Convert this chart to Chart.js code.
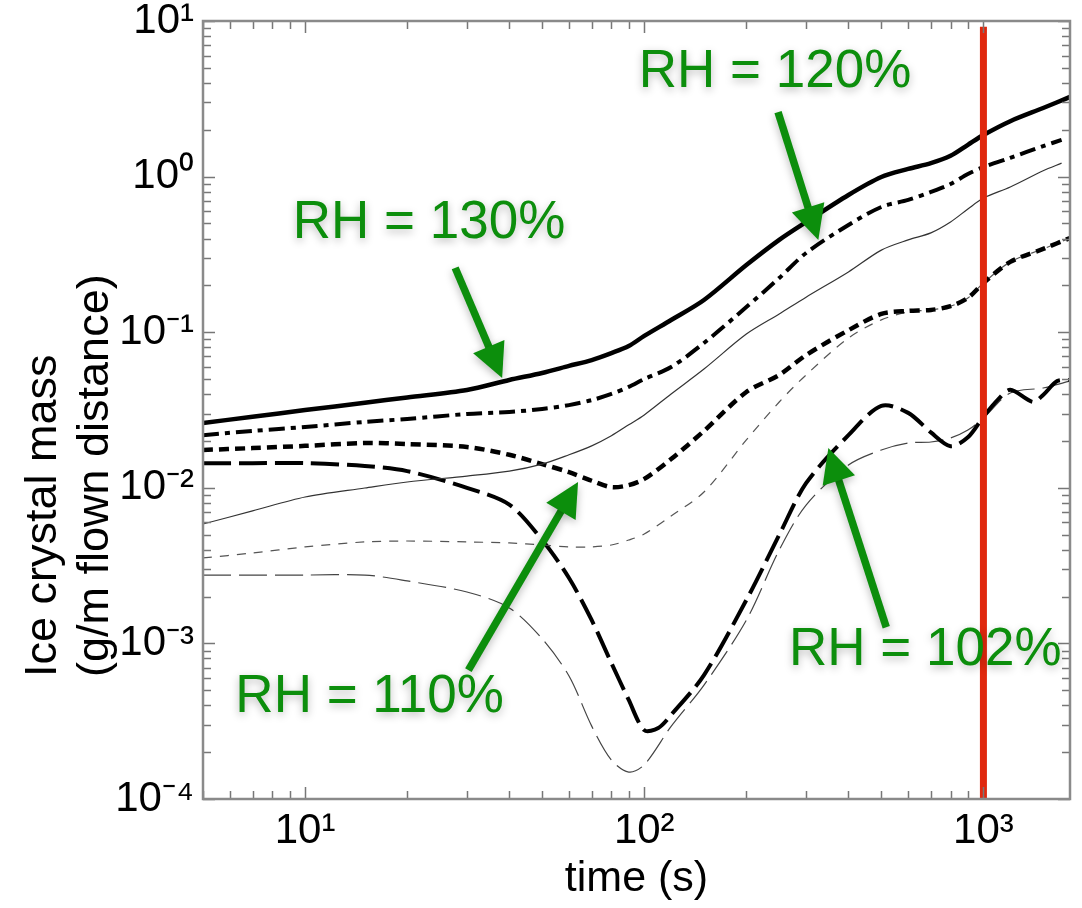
<!DOCTYPE html>
<html><head><meta charset="utf-8">
<script src="https://cdn.jsdelivr.net/npm/chart.js@4.4.1/dist/chart.umd.min.js"></script>
<style>html,body{margin:0;padding:0;background:#fff;overflow:hidden}#wrap{width:1082px;height:908px}</style>
</head><body><div id="wrap"><canvas id="c" width="1082" height="908"></canvas></div>
<script>
// ---- data ----
const times = [5,7,10,15,20,30,40,50,60,70,80,90,100,120,150,200,250,300,400,500,600,700,800,900,1000,1200,1500,1800];
const timesShort = [5,7,10,15,20,30,40,50,60,70,80,90,100,120,150,200,250,300,400,500,600,700,800,900,1000,1200,1500,1700];
const timesLong = [5,7,10,15,20,30,40,50,60,70,80,90,100,110,120,150,200,250,300,400,500,600,700,800,900,1000,1100,1200,1400,1500,1650,1800];

const rh130Thick = [0.0261,0.0286,0.0316,0.0352,0.0381,0.0425,0.0493,0.0547,0.0607,0.0662,0.0734,0.0815,0.0946,0.1197,0.161,0.270,0.392,0.510,0.762,0.994,1.12,1.22,1.36,1.60,1.85,2.27,2.76,3.25];
const rh120DashDot = [0.0218,0.0232,0.0246,0.0265,0.0277,0.0298,0.0307,0.0321,0.0340,0.0366,0.0401,0.0445,0.050,0.0597,0.0853,0.145,0.223,0.323,0.489,0.638,0.708,0.797,0.896,1.04,1.15,1.32,1.57,1.72];
const thinSolid = [0.00585,0.0071,0.00873,0.00997,0.0109,0.0119,0.0128,0.0142,0.0163,0.0186,0.0216,0.0254,0.0294,0.0401,0.058,0.0973,0.131,0.168,0.244,0.337,0.392,0.435,0.511,0.619,0.728,0.857,1.09,1.22];
const rh110Dashed = [0.0175,0.0180,0.0186,0.0194,0.0191,0.0183,0.0163,0.0142,0.0126,0.0111,0.0101,0.0104,0.0114,0.0153,0.0232,0.0413,0.0531,0.0713,0.103,0.131,0.137,0.139,0.147,0.166,0.207,0.283,0.343,0.403];
const thinDashed = [0.00354,0.00381,0.00417,0.00449,0.00455,0.00449,0.00442,0.00429,0.00417,0.00417,0.00429,0.00462,0.00505,0.00659,0.0094,0.0203,0.0356,0.0531,0.0918,0.120,0.135,0.139,0.147,0.166,0.207,0.283,0.343,0.403];
const rh102LongDash = [0.0144,0.0144,0.0144,0.0138,0.0128,0.0100,0.0078,0.00462,0.00263,0.00141,0.000748,0.000433,0.000277,0.000286,0.000347,0.000626,0.0019,0.00498,0.0107,0.0218,0.0336,0.0303,0.0227,0.0185,0.0211,0.0286,0.0366,0.0426,0.0356,0.0395,0.0485,0.0493];
const thinLongDash = [0.00275,0.00275,0.00275,0.00275,0.00252,0.00214,0.00169,0.00107,0.000617,0.000294,0.000178,0.000149,0.000166,0.000293,0.00054,0.00141,0.00398,0.00775,0.014,0.0175,0.0194,0.0197,0.0209,0.0235,0.0281,0.0407,0.0438,0.0485];

const markerTime = [1000,1000];
const markerMass = [1e-4,9.2];

const xTickValues = [10,100,1000];
const xTickLabels = ['10\u00B9','10\u00B2','10\u00B3'];
const yTickValues = [1e-4,1e-3,1e-2,1e-1,1,10];
const yTickLabels = ['10\u207B\u2074','10\u207B\u00B3','10\u207B\u00B2','10\u207B\u00B9','10\u2070','10\u00B9'];
const xTitle = 'time (s)';
const yTitle = ['Ice crystal mass','(g/m flown distance)'];

const labelTexts = ['RH = 130%','RH = 120%','RH = 110%','RH = 102%'];
const labelAt = [[23.2,0.503],[243,4.70],[15.5,0.000453],[674,0.000908]];
const arrowFrom = [[27.7,0.259],[248,2.6],[30.3,0.000674],[517,0.00127]];
const arrowTo = [[38.1,0.0508],[326,0.392],[63.8,0.0109],[349,0.018]];

// ---- build ----
const pts = (xs, ys) => ys.map((v,i)=>({x:xs[i], y:v}));
const FONT = "'Liberation Sans', Arial, Helvetica, sans-serif";
const GREEN = '#0c8e0c';

const framePlugin = {
  id:'frame',
  afterDraw(chart){
    const {ctx, chartArea:a, scales:{x,y}} = chart;
    ctx.save();
    ctx.strokeStyle='#777'; ctx.lineWidth=1.5;
    const xs=[]; for(let d=1;d<=1000;d*=10){for(let k=1;k<10;k++){const v=k*d; if(v>=5&&v<=1800) xs.push([v,k===1]);}}
    xs.forEach(([v,maj])=>{const px=Math.round(x.getPixelForValue(v))+0.5; const L=maj?12:8;
      ctx.beginPath();ctx.moveTo(px,a.bottom);ctx.lineTo(px,a.bottom-L);ctx.moveTo(px,a.top);ctx.lineTo(px,a.top+L);ctx.stroke();});
    const ys=[]; for(let e=-4;e<=0;e++){for(let k=1;k<10;k++){ys.push([k*Math.pow(10,e),k===1]);}} ys.push([10,true]);
    ys.forEach(([v,maj])=>{const py=Math.round(y.getPixelForValue(v))+0.5; const L=maj?12:8;
      ctx.beginPath();ctx.moveTo(a.left,py);ctx.lineTo(a.left+L,py);ctx.moveTo(a.right,py);ctx.lineTo(a.right-L,py);ctx.stroke();});
    ctx.strokeStyle='#8a8a8a'; ctx.lineWidth=2.5;
    ctx.strokeRect(a.left,a.top,a.right-a.left,a.bottom-a.top);
    // y axis title (two lines, rotated, starting near the lower part of the axis)
    ctx.fillStyle='#000'; ctx.font='45px '+FONT; ctx.textAlign='left'; ctx.textBaseline='middle';
    const lineX=[44,96];
    yTitle.forEach((t,i)=>{ctx.save();ctx.translate(lineX[i],677);ctx.rotate(-Math.PI/2);ctx.fillText(t,0,0);ctx.restore();});
    ctx.restore();
  }
};

const annotPlugin = {
  id:'annot',
  afterDraw(chart){
    const {ctx, scales:{x,y}} = chart;
    ctx.save();
    ctx.shadowColor='rgba(0,0,0,0.28)'; ctx.shadowBlur=9; ctx.shadowOffsetY=3;
    ctx.fillStyle=GREEN; ctx.strokeStyle=GREEN;
    for(let i=0;i<labelTexts.length;i++){
      const x0=x.getPixelForValue(arrowFrom[i][0]), y0=y.getPixelForValue(arrowFrom[i][1]);
      const x1=x.getPixelForValue(arrowTo[i][0]), y1=y.getPixelForValue(arrowTo[i][1]);
      const ang=Math.atan2(y1-y0,x1-x0), head=34, hw=17;
      const bx=x1-head*Math.cos(ang), by=y1-head*Math.sin(ang);
      ctx.lineWidth=7.5; ctx.lineCap='butt';
      ctx.beginPath();ctx.moveTo(x0,y0);ctx.lineTo(bx+2*Math.cos(ang),by+2*Math.sin(ang));ctx.stroke();
      ctx.beginPath();ctx.moveTo(x1,y1);
      ctx.lineTo(bx+hw*Math.sin(ang),by-hw*Math.cos(ang));
      ctx.lineTo(bx-hw*Math.sin(ang),by+hw*Math.cos(ang));
      ctx.closePath();ctx.fill();
    }
    ctx.font='53px '+FONT; ctx.textAlign='center'; ctx.textBaseline='middle';
    for(let i=0;i<labelTexts.length;i++){
      ctx.fillText(labelTexts[i], x.getPixelForValue(labelAt[i][0]), y.getPixelForValue(labelAt[i][1]));
    }
    ctx.restore();
  }
};

const ds = (label, xs, ys, color, width, dash) => ({label, data:pts(xs,ys), borderColor:color, borderWidth:width, borderDash:dash, fill:false, pointRadius:0, tension:0.3});

new Chart(document.getElementById('c'), {
  type:'line',
  data:{datasets:[
    {label:'t = 1000 s', data:pts(markerTime,markerMass), borderColor:'#e0280e', borderWidth:7, pointRadius:0, tension:0, fill:false},
    ds('RH = 130%', times, rh130Thick, '#000', 4.5, []),
    ds('RH = 120%', timesShort, rh120DashDot, '#000', 4, [16,6,5,6]),
    ds('thin solid', timesShort, thinSolid, '#333', 1.2, []),
    ds('RH = 110%', times, rh110Dashed, '#000', 4.5, [10,6]),
    ds('thin dashed', times, thinDashed, '#555', 1.2, [9,8]),
    ds('RH = 102%', timesLong, rh102LongDash, '#000', 4, [28,8]),
    ds('thin long dash', times, thinLongDash, '#444', 1.2, [28,8])
  ]},
  options:{
    responsive:false, animation:false, devicePixelRatio:1,
    layout:{padding:{top:21,right:12,left:0,bottom:0}},
    plugins:{legend:{display:false}, tooltip:{enabled:false}},
    scales:{
      x:{type:'logarithmic', min:5, max:1800,
        afterBuildTicks:s=>{s.ticks=xTickValues.map(v=>({value:v}));},
        afterFit:s=>{s.height=109; s.paddingLeft=0; s.paddingRight=0;},
        ticks:{callback:(v)=>{const i=xTickValues.indexOf(v);return i<0?'':xTickLabels[i];}, font:{family:FONT,size:42,lineHeight:1}, color:'#000', padding:11, maxRotation:0, autoSkip:false},
        grid:{display:false, drawTicks:false}, border:{display:false},
        title:{display:true, text:xTitle, font:{family:FONT,size:43,lineHeight:1.1}, color:'#000', padding:{top:0,bottom:5}}
      },
      y:{type:'logarithmic', min:1e-4, max:10,
        afterBuildTicks:s=>{s.ticks=yTickValues.map(v=>({value:v}));},
        afterFit:s=>{s.width=203; s.paddingTop=0; s.paddingBottom=0;},
        ticks:{callback:(v)=>{const i=yTickValues.findIndex(t=>Math.abs(Math.log10(t)-Math.log10(v))<1e-6);return i<0?'':yTickLabels[i];}, font:{family:FONT,size:42,lineHeight:1}, color:'#000', padding:9, autoSkip:false},
        grid:{display:false, drawTicks:false}, border:{display:false},
        title:{display:false}
      }
    }
  },
  plugins:[framePlugin, annotPlugin]
});
</script></body></html>
